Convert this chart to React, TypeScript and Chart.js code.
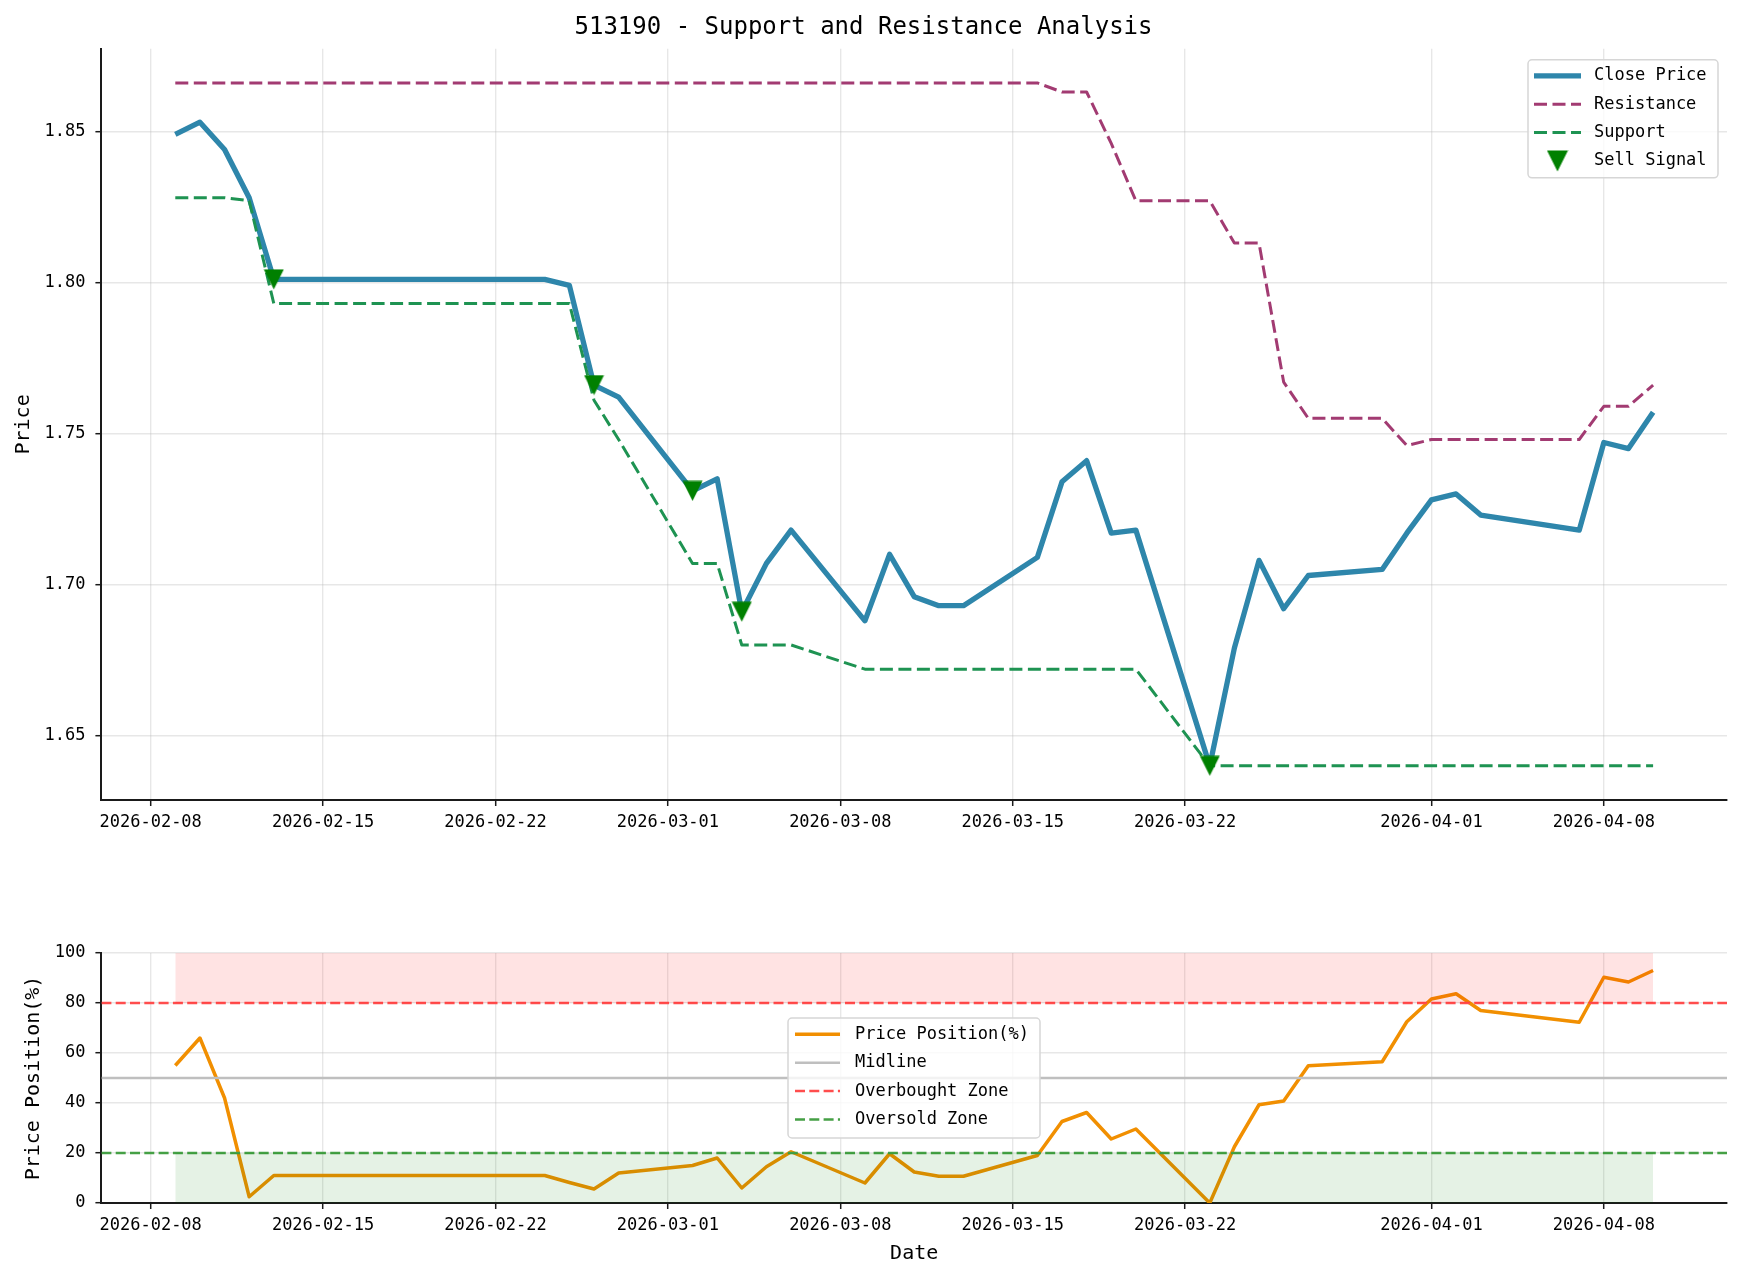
import React, { useEffect, useRef } from 'react';
import { Chart, registerables } from 'chart.js';

Chart.register(...registerables);

const TITLE = '513190 - Support and Resistance Analysis';

const DATES = [
  '2026-02-09', '2026-02-10', '2026-02-11', '2026-02-12', '2026-02-13',
  '2026-02-24', '2026-02-25', '2026-02-26', '2026-02-27',
  '2026-03-02', '2026-03-03', '2026-03-04', '2026-03-05', '2026-03-06',
  '2026-03-09', '2026-03-10', '2026-03-11', '2026-03-12', '2026-03-13',
  '2026-03-16', '2026-03-17', '2026-03-18', '2026-03-19', '2026-03-20',
  '2026-03-23', '2026-03-24', '2026-03-25', '2026-03-26', '2026-03-27',
  '2026-03-30', '2026-03-31', '2026-04-01', '2026-04-02', '2026-04-03',
  '2026-04-07', '2026-04-08', '2026-04-09', '2026-04-10',
];

const CLOSE = [
  1.849, 1.853, 1.844, 1.828, 1.801,
  1.801, 1.799, 1.766, 1.762,
  1.731, 1.735, 1.691, 1.707, 1.718,
  1.688, 1.710, 1.696, 1.693, 1.693,
  1.709, 1.734, 1.741, 1.717, 1.718,
  1.640, 1.679, 1.708, 1.692, 1.703,
  1.705, 1.717, 1.728, 1.730, 1.723,
  1.718, 1.747, 1.745, 1.757,
];

const RESISTANCE = [
  1.866, 1.866, 1.866, 1.866, 1.866,
  1.866, 1.866, 1.866, 1.866,
  1.866, 1.866, 1.866, 1.866, 1.866,
  1.866, 1.866, 1.866, 1.866, 1.866,
  1.866, 1.863, 1.863, 1.846, 1.827,
  1.827, 1.813, 1.813, 1.767, 1.755,
  1.755, 1.746, 1.748, 1.748, 1.748,
  1.748, 1.759, 1.759, 1.766,
];

const SUPPORT = [
  1.828, 1.828, 1.828, 1.827, 1.793,
  1.793, 1.793, 1.761, 1.748,
  1.707, 1.707, 1.680, 1.680, 1.680,
  1.672, 1.672, 1.672, 1.672, 1.672,
  1.672, 1.672, 1.672, 1.672, 1.672,
  1.640, 1.640, 1.640, 1.640, 1.640,
  1.640, 1.640, 1.640, 1.640, 1.640,
  1.640, 1.640, 1.640, 1.640,
];

const SELL_DATES = ['2026-02-13', '2026-02-26', '2026-03-02', '2026-03-04', '2026-03-23'];
const SELL_PRICES = [1.801, 1.766, 1.731, 1.691, 1.640];

const POSITION = [
  55, 66, 42, 2.5, 11,
  11, 8.2, 5.6, 12,
  15, 18, 6, 14.5, 20.5,
  8, 19.7, 12.4, 10.7, 10.7,
  19, 32.6, 36.2, 25.6, 29.6,
  0, 22.5, 39.3, 40.8, 54.9,
  56.5, 72.5, 81.6, 83.7, 77,
  72.3, 90.3, 88.4, 93,
];

const X_TICK_LABELS = [
  '2026-02-08', '2026-02-15', '2026-02-22', '2026-03-01', '2026-03-08',
  '2026-03-15', '2026-03-22', '2026-04-01', '2026-04-08',
];
const PRICE_TICKS = [1.65, 1.7, 1.75, 1.8, 1.85];
const PRICE_TICK_LABELS = ['1.65', '1.70', '1.75', '1.80', '1.85'];
const POS_TICKS = [0, 20, 40, 60, 80, 100];
const POS_TICK_LABELS = ['0', '20', '40', '60', '80', '100'];

const MIDLINE = 50;
const OVERBOUGHT = 80;
const OVERSOLD = 20;
const POS_MIN = 0;
const POS_MAX = 100;

// styles
const FONT = 'DejaVu Sans Mono';
const CLOSE_COLOR = '#2E86AB';
const RES_COLOR = '#A23B72';
const SUP_COLOR = '#1E9352';
const SELL_COLOR = '#008000';
const POS_COLOR = '#F18F01';
const MID_COLOR = '#BFBFBF';
const OB_COLOR = '#FF4D4D';
const OS_COLOR = '#45A045';
const DASH_TOP = [13, 5.5];
const DASH_BOT = [10, 4.3];

const BASE_DAY = X_TICK_LABELS[0];
const dayNum = (s: string) => {
  const t = (d: string) => Date.UTC(+d.slice(0, 4), +d.slice(5, 7) - 1, +d.slice(8, 10));
  return (t(s) - t(BASE_DAY)) / 86400000;
};

const X_VALUES = DATES.map(dayNum);
const X_TICKS = X_TICK_LABELS.map(dayNum);
const X_SPAN = X_VALUES[X_VALUES.length - 1] - X_VALUES[0];
const X_MIN = X_VALUES[0] - 0.05 * X_SPAN;
const X_MAX = X_VALUES[X_VALUES.length - 1] + 0.05 * X_SPAN;

const ALL_PRICES = [...CLOSE, ...RESISTANCE, ...SUPPORT];
const P_LO = Math.min(...ALL_PRICES);
const P_HI = Math.max(...ALL_PRICES);
const Y_MIN = P_LO - 0.05 * (P_HI - P_LO);
const Y_MAX = P_HI + 0.05 * (P_HI - P_LO);

const pts = (ys: number[]) => ys.map((y, i) => ({ x: X_VALUES[i], y }));

const GRID = {
  color: 'rgba(176,176,176,0.3)',
  lineWidth: 1.4,
  drawTicks: true,
  tickLength: 6,
  tickColor: '#1a1a1a',
  tickWidth: 1.5,
};
const BORDER = { display: true, color: '#1a1a1a', width: 2 };

function makeTriangle(size: number) {
  const c = document.createElement('canvas');
  c.width = size;
  c.height = size;
  const g = c.getContext('2d')!;
  g.fillStyle = SELL_COLOR;
  g.beginPath();
  g.moveTo(0.5, 0.5);
  g.lineTo(size - 0.5, 0.5);
  g.lineTo(size / 2, size - 0.5);
  g.closePath();
  g.fill();
  return c;
}

type LegendItem = { label: string; color: string; width?: number; dash?: number[]; marker?: HTMLCanvasElement };
type LegendPlace = { fromRight: boolean; dx: number; dy: number; w: number; h: number; row0: number; gap: number; h0: number; h1: number; tx: number };

function makeLegend(id: string, items: LegendItem[], p: LegendPlace) {
  return {
    id,
    afterDraw(chart: any) {
      const { ctx, chartArea } = chart;
      const left = p.fromRight ? chartArea.right - p.dx - p.w : chartArea.left + p.dx;
      const top = chartArea.top + p.dy;
      ctx.save();
      ctx.beginPath();
      ctx.roundRect(left, top, p.w, p.h, 4);
      ctx.fillStyle = 'rgba(255,255,255,0.8)';
      ctx.fill();
      ctx.lineWidth = 1.5;
      ctx.strokeStyle = '#d6d6d6';
      ctx.stroke();
      items.forEach((it, i) => {
        const cy = top + p.row0 + i * p.gap;
        if (it.marker) {
          const m = it.marker;
          ctx.drawImage(m, left + (p.h0 + p.h1) / 2 - m.width / 2, cy - m.height / 2);
        } else {
          ctx.beginPath();
          ctx.setLineDash(it.dash || []);
          ctx.lineWidth = it.width || 2;
          ctx.strokeStyle = it.color;
          ctx.lineCap = 'butt';
          ctx.moveTo(left + p.h0, cy);
          ctx.lineTo(left + p.h1, cy);
          ctx.stroke();
          ctx.setLineDash([]);
        }
        ctx.fillStyle = '#000';
        ctx.font = `17px "${FONT}"`;
        ctx.textBaseline = 'middle';
        ctx.textAlign = 'left';
        ctx.fillText(it.label, left + p.tx, cy);
      });
      ctx.restore();
    },
  };
}

function xScale(withTitle: boolean, height: number) {
  return {
    type: 'linear',
    min: X_MIN,
    max: X_MAX,
    grid: GRID,
    border: BORDER,
    afterBuildTicks: (s: any) => {
      s.ticks = X_TICKS.map((v) => ({ value: v }));
    },
    afterFit: (s: any) => {
      s.height = height;
    },
    ticks: {
      autoSkip: false,
      maxRotation: 0,
      minRotation: 0,
      padding: 6,
      color: '#000',
      font: { family: FONT, size: 17 },
      callback: (_v: any, i: number) => X_TICK_LABELS[i],
    },
    title: {
      display: withTitle,
      text: 'Date',
      color: '#000',
      font: { family: FONT, size: 20 },
      padding: { top: 0, bottom: 15 },
    },
  };
}

function yScale(min: number, max: number, ticks: number[], labels: string[], title: string, titlePad: number) {
  return {
    type: 'linear',
    min,
    max,
    grid: GRID,
    border: BORDER,
    afterBuildTicks: (s: any) => {
      s.ticks = ticks.map((v) => ({ value: v }));
    },
    afterFit: (s: any) => {
      s.width = 101.4;
    },
    ticks: {
      autoSkip: false,
      padding: 10,
      color: '#000',
      font: { family: FONT, size: 17 },
      callback: (_v: any, i: number) => labels[i],
    },
    title: {
      display: true,
      text: title,
      color: '#000',
      font: { family: FONT, size: 20 },
      padding: { top: titlePad, bottom: 0 },
    },
  };
}

const lineDefaults = {
  pointRadius: 0,
  pointHoverRadius: 0,
  tension: 0,
  fill: false,
  borderJoinStyle: 'round',
  borderCapStyle: 'butt',
};

export default function App() {
  const topRef = useRef<HTMLCanvasElement>(null);
  const botRef = useRef<HTMLCanvasElement>(null);

  useEffect(() => {
    Chart.defaults.font.family = FONT;
    const markerPlot = makeTriangle(21);
    const markerLegend = makeTriangle(22);

    const topDatasets: any[] = [
      {
        ...lineDefaults,
        label: 'Sell Signal',
        data: SELL_DATES.map((d, i) => ({ x: dayNum(d), y: SELL_PRICES[i] })),
        showLine: false,
        pointRadius: 10,
        pointStyle: markerPlot,
        borderColor: SELL_COLOR,
        backgroundColor: SELL_COLOR,
        order: 0,
      },
      {
        ...lineDefaults,
        label: 'Support',
        data: pts(SUPPORT),
        borderColor: SUP_COLOR,
        borderWidth: 3,
        borderDash: DASH_TOP,
        order: 1,
      },
      {
        ...lineDefaults,
        label: 'Resistance',
        data: pts(RESISTANCE),
        borderColor: RES_COLOR,
        borderWidth: 3,
        borderDash: DASH_TOP,
        order: 2,
      },
      {
        ...lineDefaults,
        label: 'Close Price',
        data: pts(CLOSE),
        borderColor: CLOSE_COLOR,
        borderWidth: 5.3,
        order: 3,
      },
    ];

    const topLegend = makeLegend(
      'topLegend',
      [
        { label: 'Close Price', color: CLOSE_COLOR, width: 5.3 },
        { label: 'Resistance', color: RES_COLOR, width: 3, dash: DASH_TOP },
        { label: 'Support', color: SUP_COLOR, width: 3, dash: DASH_TOP },
        { label: 'Sell Signal', color: SELL_COLOR, marker: markerLegend },
      ],
      { fromRight: true, dx: 9, dy: 11, w: 190, h: 118, row0: 16, gap: 28.4, h0: 6, h1: 53, tx: 66 }
    );

    const top = new Chart(topRef.current!, {
      type: 'line',
      data: { datasets: topDatasets },
      options: {
        responsive: false,
        animation: false,
        devicePixelRatio: 1,
        events: [],
        layout: { padding: { top: 0, right: 16, bottom: 0, left: 0 } },
        plugins: {
          legend: { display: false },
          tooltip: { enabled: false },
          title: {
            display: true,
            text: TITLE,
            color: '#000',
            font: { family: FONT, size: 24, weight: 'normal' },
            padding: { top: 13, bottom: 7 },
          },
        },
        scales: {
          x: xScale(false, 70),
          y: yScale(Y_MIN, Y_MAX, PRICE_TICKS, PRICE_TICK_LABELS, 'Price', 12),
        },
      } as any,
      plugins: [topLegend],
    });

    const xFirst = X_VALUES[0];
    const xLast = X_VALUES[X_VALUES.length - 1];

    const botDatasets: any[] = [
      {
        ...lineDefaults,
        label: 'Overbought Fill',
        data: [{ x: xFirst, y: POS_MAX }, { x: xLast, y: POS_MAX }],
        borderColor: 'transparent',
        borderWidth: 0,
        backgroundColor: 'rgba(255,0,0,0.11)',
        fill: { value: OVERBOUGHT },
        order: 0,
      },
      {
        ...lineDefaults,
        label: 'Oversold Fill',
        data: [{ x: xFirst, y: OVERSOLD }, { x: xLast, y: OVERSOLD }],
        borderColor: 'transparent',
        borderWidth: 0,
        backgroundColor: 'rgba(0,128,0,0.1)',
        fill: { value: POS_MIN },
        order: 1,
      },
      {
        ...lineDefaults,
        label: 'Oversold Zone',
        data: [{ x: X_MIN, y: OVERSOLD }, { x: X_MAX, y: OVERSOLD }],
        borderColor: OS_COLOR,
        borderWidth: 2.5,
        borderDash: DASH_BOT,
        order: 2,
      },
      {
        ...lineDefaults,
        label: 'Overbought Zone',
        data: [{ x: X_MIN, y: OVERBOUGHT }, { x: X_MAX, y: OVERBOUGHT }],
        borderColor: OB_COLOR,
        borderWidth: 2.5,
        borderDash: DASH_BOT,
        order: 3,
      },
      {
        ...lineDefaults,
        label: 'Midline',
        data: [{ x: X_MIN, y: MIDLINE }, { x: X_MAX, y: MIDLINE }],
        borderColor: MID_COLOR,
        borderWidth: 2.5,
        order: 4,
      },
      {
        ...lineDefaults,
        label: 'Price Position(%)',
        data: pts(POSITION),
        borderColor: POS_COLOR,
        borderWidth: 3.5,
        order: 5,
      },
    ];

    const botLegend = makeLegend(
      'botLegend',
      [
        { label: 'Price Position(%)', color: POS_COLOR, width: 3.5 },
        { label: 'Midline', color: MID_COLOR, width: 2.5 },
        { label: 'Overbought Zone', color: OB_COLOR, width: 2.5, dash: DASH_BOT },
        { label: 'Oversold Zone', color: OS_COLOR, width: 2.5, dash: DASH_BOT },
      ],
      { fromRight: false, dx: 686.6, dy: 65, w: 252, h: 120, row0: 16.3, gap: 28.4, h0: 7, h1: 52, tx: 67 }
    );

    const bot = new Chart(botRef.current!, {
      type: 'line',
      data: { datasets: botDatasets },
      options: {
        responsive: false,
        animation: false,
        devicePixelRatio: 1,
        events: [],
        layout: { padding: { top: 30, right: 16, bottom: 0, left: 0 } },
        plugins: {
          legend: { display: false },
          tooltip: { enabled: false },
        },
        scales: {
          x: xScale(true, 78),
          y: yScale(POS_MIN, POS_MAX, POS_TICKS, POS_TICK_LABELS, 'Price Position(%)', 22),
        },
      } as any,
      plugins: [botLegend],
    });

    return () => {
      top.destroy();
      bot.destroy();
    };
  }, []);

  return (
    <div style={{ position: 'absolute', left: 0, top: 0, width: 1743, height: 1281, background: '#fff' }}>
      <canvas ref={topRef} width={1743} height={870} style={{ position: 'absolute', left: 0, top: 0, display: 'block' }} />
      <canvas ref={botRef} width={1743} height={358} style={{ position: 'absolute', left: 0, top: 923, display: 'block' }} />
    </div>
  );
}
